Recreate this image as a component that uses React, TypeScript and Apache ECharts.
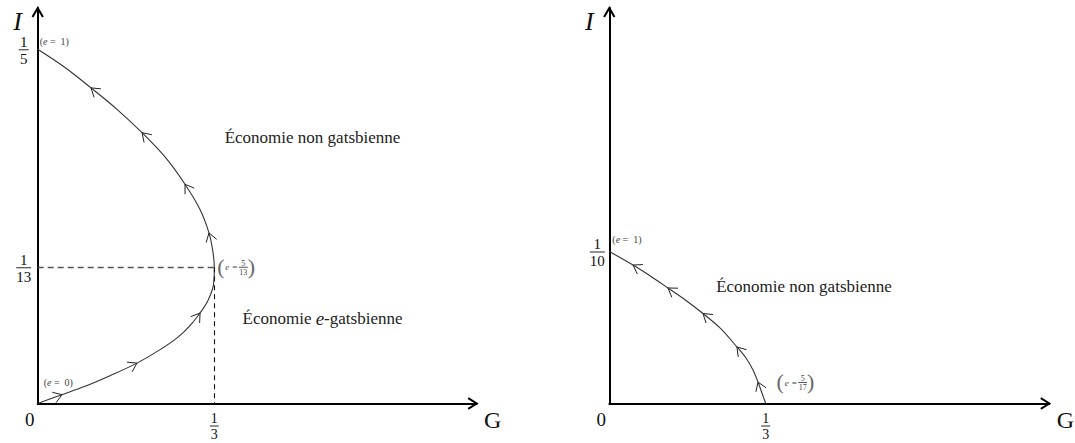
import { useEffect, useRef } from "react";
import * as echarts from "echarts";

// Left panel: path of the economy, e going from 0 (origin) through 5/13 up to 1
const leftG = [0, 0.0459, 0.0893, 0.1365, 0.1874, 0.2309, 0.2649, 0.2875, 0.3064, 0.3214, 0.3318, 1 / 3, 0.3309, 0.3233, 0.3064, 0.278, 0.2403, 0.1969, 0.1497, 0.1006, 0.0515, 0];
const leftI = [0, 0.005, 0.0097, 0.0157, 0.0228, 0.0304, 0.0375, 0.044, 0.0511, 0.0582, 0.0671, 1 / 13, 0.0853, 0.0963, 0.1095, 0.1238, 0.1392, 0.1529, 0.1661, 0.1782, 0.1897, 0.2];
const leftArrowAt = [1, 4, 8, 13, 15, 17, 19];

// Right panel: path from e = 5/17 (on the G axis) up to e = 1
const rightG = [1 / 3, 0.3254, 0.3169, 0.3063, 0.2913, 0.272, 0.2359, 0.1997, 0.1635, 0.1251, 0.0889, 0.0505, 0];
const rightI = [0, 0.0069, 0.0141, 0.022, 0.0299, 0.0372, 0.0497, 0.0592, 0.0678, 0.076, 0.0836, 0.0911, 0.1];
const rightArrowAt = [2, 5, 7, 9, 11];

// Axis ranges and fraction ticks
const leftGMax = 0.8286;
const leftIMax = 0.2233;
const rightGMax = 0.9378;
const rightIMax = 0.2602;
const leftITicks = [1 / 5, 1 / 13];
const leftITickDen = ["5", "13"];
const rightITicks = [1 / 10];
const rightITickDen = ["10"];
const gTick = 1 / 3;
const noseI = 1 / 13;

const SERIF = "Liberation Serif";

function arrowItems(G: number[], I: number[], idx: number[]) {
  return idx.map((k) => [G[k], I[k], G[k - 1], I[k - 1], G[k + 1], I[k + 1]]);
}

function renderChevron(_params: any, api: any) {
  const p = api.coord([api.value(0), api.value(1)]);
  const a = api.coord([api.value(2), api.value(3)]);
  const b = api.coord([api.value(4), api.value(5)]);
  let dx = b[0] - a[0];
  let dy = b[1] - a[1];
  const len = Math.hypot(dx, dy) || 1;
  dx /= len;
  dy /= len;
  const L = 10;
  const ang = 0.58;
  const c = Math.cos(ang);
  const s = Math.sin(ang);
  const bx = -dx;
  const by = -dy;
  const p1 = [p[0] + L * (bx * c - by * s), p[1] + L * (bx * s + by * c)];
  const p2 = [p[0] + L * (bx * c + by * s), p[1] + L * (-bx * s + by * c)];
  return {
    type: "polyline",
    shape: { points: [p1, p, p2] },
    style: { stroke: "#222", lineWidth: 1, fill: null },
  };
}

function txt(x: number, y: number, text: string, size: number, opts: any = {}) {
  return {
    type: "text",
    x,
    y,
    silent: true,
    style: {
      text,
      fontFamily: SERIF,
      fontSize: size,
      fontStyle: opts.italic ? "italic" : "normal",
      fill: opts.color || "#111",
      align: opts.align || "center",
      verticalAlign: opts.valign || "middle",
    },
  };
}

function frac(cx: number, cy: number, num: string, den: string, size: number, barW: number, color = "#111") {
  return {
    type: "group",
    silent: true,
    children: [
      txt(cx, cy - size * 0.52, num, size, { color }),
      {
        type: "line",
        shape: { x1: cx - barW / 2, y1: cy, x2: cx + barW / 2, y2: cy },
        style: { stroke: color, lineWidth: 0.9 },
      },
      txt(cx, cy + size * 0.6, den, size, { color }),
    ],
  };
}

// "(e = n/d)" tag with tall parentheses
function bigTag(x: number, y: number, num: string, den: string) {
  const col = "#444";
  return {
    type: "group",
    silent: true,
    children: [
      txt(x + 1.5, y - 1, "(", 22, { color: "#666" }),
      txt(x + 6, y, "e", 9, { color: col, italic: true, align: "left" }),
      txt(x + 13, y, "=", 9, { color: col, align: "left" }),
      frac(x + 24, y, num, den, 8, 9, col),
      txt(x + 32, y - 1, ")", 22, { color: "#666" }),
    ],
  };
}

function smallTag(x: number, y: number, val: string) {
  return {
    type: "text",
    x,
    y,
    silent: true,
    style: {
      text: `{p|(}{e|e}{p| =  ${val})}`,
      align: "left",
      verticalAlign: "middle",
      rich: {
        p: { fontFamily: SERIF, fontSize: 10, fill: "#444" },
        e: { fontFamily: SERIF, fontSize: 10, fontStyle: "italic", fill: "#444" },
      },
    },
  };
}

function axisArrow(tip: number[], dir: "up" | "right") {
  const pts =
    dir === "right"
      ? [[tip[0] - 8.5, tip[1] - 5.3], tip, [tip[0] - 8.5, tip[1] + 5.3]]
      : [[tip[0] - 5.2, tip[1] + 9], tip, [tip[0] + 5.2, tip[1] + 9]];
  return {
    type: "polyline",
    silent: true,
    shape: { points: pts },
    style: { stroke: "#000", lineWidth: 2, fill: null, lineJoin: "miter" },
  };
}

export default function App() {
  const ref = useRef<HTMLDivElement>(null);

  useEffect(() => {
    const el = ref.current;
    if (!el) return;
    const chart = echarts.init(el, null, { renderer: "svg" });

    const hiddenAxis = {
      type: "value",
      min: 0,
      axisLine: { show: true, onZero: false, lineStyle: { color: "#000", width: 2 } },
      axisTick: { show: false },
      axisLabel: { show: false },
      splitLine: { show: false },
    };

    chart.setOption({
      animation: false,
      backgroundColor: "#fff",
      grid: [
        { left: 37.7, top: 8, width: 439, height: 395.5 },
        { left: 609.3, top: 8, width: 440, height: 395.5 },
      ],
      xAxis: [
        { ...hiddenAxis, gridIndex: 0, max: leftGMax },
        { ...hiddenAxis, gridIndex: 1, max: rightGMax },
      ],
      yAxis: [
        { ...hiddenAxis, gridIndex: 0, max: leftIMax },
        { ...hiddenAxis, gridIndex: 1, max: rightIMax },
      ],
      series: [
        {
          type: "line",
          xAxisIndex: 0,
          yAxisIndex: 0,
          data: leftG.map((g, k) => [g, leftI[k]]),
          smooth: 0.35,
          symbol: "none",
          silent: true,
          lineStyle: { color: "#333", width: 1.1 },
          markLine: {
            silent: true,
            symbol: "none",
            label: { show: false },
            data: [
              [
                { coord: [0, noseI], lineStyle: { color: "#555", width: 1.4, type: [6, 4] } },
                { coord: [gTick, noseI] },
              ],
              [
                { coord: [gTick, noseI], lineStyle: { color: "#111", width: 1.1, type: [5, 4] } },
                { coord: [gTick, 0] },
              ],
            ],
          },
        },
        {
          type: "custom",
          xAxisIndex: 0,
          yAxisIndex: 0,
          silent: true,
          data: arrowItems(leftG, leftI, leftArrowAt),
          encode: { x: 0, y: 1 },
          renderItem: renderChevron,
        },
        {
          type: "line",
          xAxisIndex: 1,
          yAxisIndex: 1,
          data: rightG.map((g, k) => [g, rightI[k]]),
          smooth: 0.35,
          symbol: "none",
          silent: true,
          lineStyle: { color: "#333", width: 1.1 },
        },
        {
          type: "custom",
          xAxisIndex: 1,
          yAxisIndex: 1,
          silent: true,
          data: arrowItems(rightG, rightI, rightArrowAt),
          encode: { x: 0, y: 1 },
          renderItem: renderChevron,
        },
      ],
    });

    const toPx = (grid: number, v: number[]) =>
      chart.convertToPixel({ xAxisIndex: grid, yAxisIndex: grid } as any, v) as number[];

    const lo = toPx(0, [0, 0]);
    const lxEnd = toPx(0, [leftGMax, 0]);
    const lyEnd = toPx(0, [0, leftIMax]);
    const ro = toPx(1, [0, 0]);
    const rxEnd = toPx(1, [rightGMax, 0]);
    const ryEnd = toPx(1, [0, rightIMax]);
    const lNose = toPx(0, [gTick, noseI]);
    const lTop = toPx(0, [leftG[leftG.length - 1], leftI[leftI.length - 1]]);
    const rEnd = toPx(1, [rightG[0], rightI[0]]);
    const rTop = toPx(1, [rightG[rightG.length - 1], rightI[rightI.length - 1]]);

    const graphic: any[] = [
      axisArrow(lxEnd, "right"),
      axisArrow(lyEnd, "up"),
      axisArrow(rxEnd, "right"),
      axisArrow(ryEnd, "up"),
      // axis names
      txt(lo[0] - 20, lyEnd[1] + 13, "I", 26, { italic: true }),
      txt(lxEnd[0] + 16, lo[1] + 16, "G", 24),
      txt(ro[0] - 20, ryEnd[1] + 13, "I", 26, { italic: true }),
      txt(rxEnd[0] + 16, ro[1] + 16, "G", 24),
      // origins
      txt(lo[0] - 8, lo[1] + 16, "0", 19),
      txt(ro[0] - 8, ro[1] + 16, "0", 19),
    ];

    leftITicks.forEach((v, k) => {
      const p = toPx(0, [0, v]);
      graphic.push(frac(p[0] - 14, p[1] + 0.5, "1", leftITickDen[k], 15, k === 0 ? 10 : 15));
    });
    rightITicks.forEach((v, k) => {
      const p = toPx(1, [0, v]);
      graphic.push(frac(p[0] - 12, p[1] + 0.5, "1", rightITickDen[k], 15, 15));
    });
    [0, 1].forEach((g) => {
      const p = toPx(g, [gTick, 0]);
      graphic.push(frac(p[0], p[1] + 22.5, "1", "3", 14, 9));
    });

    // point tags
    graphic.push(smallTag(lTop[0] + 2, lTop[1] - 7.5, "1"));
    graphic.push(smallTag(lo[0] + 6, lo[1] - 21, "0"));
    graphic.push(smallTag(rTop[0] + 3, rTop[1] - 12, "1"));
    graphic.push(bigTag(lNose[0] + 5, lNose[1], "5", "13"));
    graphic.push(bigTag(rEnd[0] + 13, rEnd[1] - 21, "5", "17"));

    // region captions
    graphic.push(txt(312.5, 137, "Économie non gatsbienne", 17, { color: "#222" }));
    graphic.push(txt(804, 286, "Économie non gatsbienne", 17, { color: "#222" }));
    graphic.push({
      type: "text",
      x: 322.5,
      y: 318,
      silent: true,
      style: {
        text: "{a|Économie }{e|e}{a|-gatsbienne}",
        align: "center",
        verticalAlign: "middle",
        rich: {
          a: { fontFamily: SERIF, fontSize: 17, fill: "#222" },
          e: { fontFamily: SERIF, fontSize: 19, fontStyle: "italic", fill: "#222" },
        },
      },
    });

    chart.setOption({ graphic });

    return () => chart.dispose();
  }, []);

  return (
    <div
      ref={ref}
      style={{ position: "fixed", left: 0, top: 0, width: 1075, height: 443, background: "#fff" }}
    />
  );
}
